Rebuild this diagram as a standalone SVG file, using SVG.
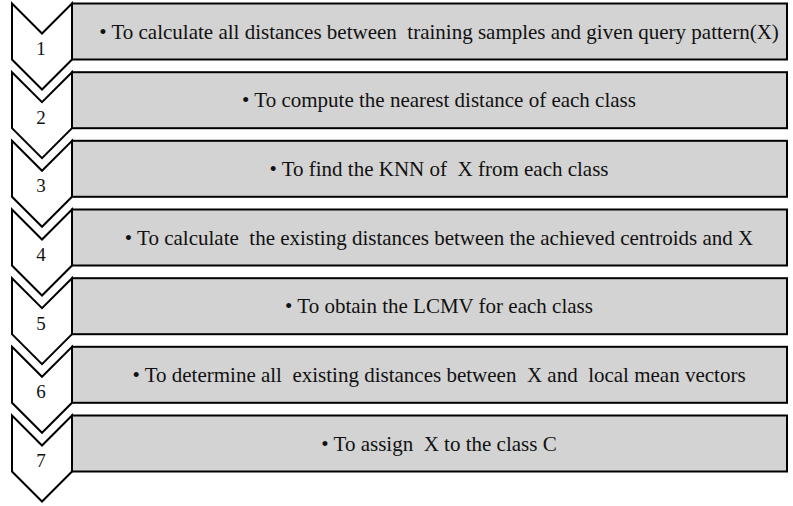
<svg xmlns="http://www.w3.org/2000/svg" width="793" height="506" viewBox="0 0 793 506">
<style>
.chev{fill:#ffffff;stroke:#000;stroke-width:2;stroke-linejoin:miter}
.box{fill:#d3d3d3;stroke:#000;stroke-width:2}
.num{font-family:"Liberation Serif","Times New Roman",serif;font-size:19px;fill:#111;text-anchor:middle}
.lbl{font-family:"Liberation Serif","Times New Roman",serif;font-size:21px;fill:#111;text-anchor:middle;white-space:pre}
</style>
<rect width="793" height="506" fill="#fff"/>
<defs>
<polygon id="chev" points="12,0 42,30 72,0 72,56 42,86 12,56"/>
</defs>
<g id="step1">
<use href="#chev" class="chev" transform="translate(0,3.5)"/>
<rect class="box" x="72" y="3.5" width="715" height="56"/>
<text class="num" x="41" y="55">1</text>
<text class="lbl" x="439" y="38.5" xml:space="preserve">• To calculate all distances between  training samples and given query pattern(X)</text>
</g>
<g id="step2">
<use href="#chev" class="chev" transform="translate(0,72.2)"/>
<rect class="box" x="72" y="72.2" width="715" height="56"/>
<text class="num" x="41" y="123.7">2</text>
<text class="lbl" x="439" y="107.2" xml:space="preserve">• To compute the nearest distance of each class</text>
</g>
<g id="step3">
<use href="#chev" class="chev" transform="translate(0,140.8)"/>
<rect class="box" x="72" y="140.8" width="715" height="56"/>
<text class="num" x="41" y="192.3">3</text>
<text class="lbl" x="439" y="175.8" xml:space="preserve">• To find the KNN of  X from each class</text>
</g>
<g id="step4">
<use href="#chev" class="chev" transform="translate(0,209.5)"/>
<rect class="box" x="72" y="209.5" width="715" height="56"/>
<text class="num" x="41" y="261">4</text>
<text class="lbl" x="439" y="244.5" xml:space="preserve">• To calculate  the existing distances between the achieved centroids and X</text>
</g>
<g id="step5">
<use href="#chev" class="chev" transform="translate(0,278.2)"/>
<rect class="box" x="72" y="278.2" width="715" height="56"/>
<text class="num" x="41" y="329.7">5</text>
<text class="lbl" x="439" y="313.2" xml:space="preserve">• To obtain the LCMV for each class</text>
</g>
<g id="step6">
<use href="#chev" class="chev" transform="translate(0,346.8)"/>
<rect class="box" x="72" y="346.8" width="715" height="56"/>
<text class="num" x="41" y="398.3">6</text>
<text class="lbl" x="439" y="381.8" xml:space="preserve">• To determine all  existing distances between  X and  local mean vectors</text>
</g>
<g id="step7">
<use href="#chev" class="chev" transform="translate(0,415.5)"/>
<rect class="box" x="72" y="415.5" width="715" height="56"/>
<text class="num" x="41" y="467">7</text>
<text class="lbl" x="439" y="451" xml:space="preserve">• To assign  X to the class C</text>
</g>
<g id="connectors"></g>
</svg>
